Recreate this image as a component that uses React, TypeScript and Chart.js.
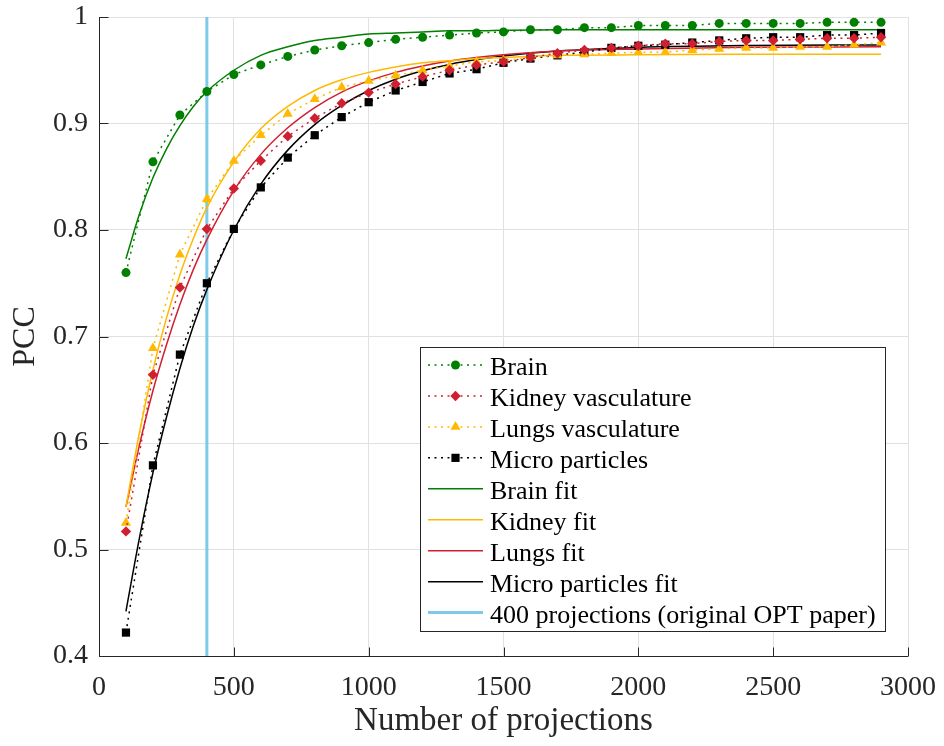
import React, { useEffect, useRef } from 'react';
import { Chart, registerables } from 'chart.js';
import { drawPoint } from 'chart.js/helpers';

Chart.register(...registerables);

// ---------- data ----------
const projections = [100, 200, 300, 400, 500, 600, 700, 800, 900, 1000, 1100, 1200, 1300, 1400, 1500, 1600, 1700, 1800, 1900, 2000, 2100, 2200, 2300, 2400, 2500, 2600, 2700, 2800, 2900];
const brain = [0.760, 0.864, 0.908, 0.930, 0.946, 0.955, 0.963, 0.969, 0.973, 0.976, 0.979, 0.981, 0.983, 0.985, 0.986, 0.988, 0.988, 0.990, 0.990, 0.992, 0.992, 0.992, 0.994, 0.994, 0.994, 0.994, 0.995, 0.995, 0.995];
const kidney = [0.517, 0.664, 0.746, 0.801, 0.839, 0.865, 0.888, 0.905, 0.919, 0.929, 0.937, 0.944, 0.950, 0.955, 0.958, 0.962, 0.966, 0.969, 0.971, 0.973, 0.975, 0.975, 0.977, 0.978, 0.978, 0.979, 0.980, 0.980, 0.981];
const lungs = [0.525, 0.689, 0.777, 0.829, 0.865, 0.889, 0.909, 0.923, 0.934, 0.940, 0.945, 0.950, 0.954, 0.958, 0.959, 0.962, 0.964, 0.965, 0.966, 0.967, 0.967, 0.969, 0.970, 0.971, 0.971, 0.972, 0.972, 0.974, 0.976];
const micro = [0.422, 0.579, 0.683, 0.750, 0.801, 0.840, 0.868, 0.889, 0.906, 0.920, 0.931, 0.939, 0.947, 0.951, 0.957, 0.961, 0.964, 0.967, 0.971, 0.973, 0.974, 0.976, 0.978, 0.980, 0.981, 0.981, 0.983, 0.983, 0.985];

const fitX = [100, 150, 200, 250, 300, 350, 400, 500, 600, 700, 800, 900, 1000, 1100, 1200, 1300, 1400, 1500, 1700, 2000, 2400, 2900];
const brainFit = [0.773, 0.815, 0.849, 0.876, 0.898, 0.916, 0.930, 0.950, 0.964, 0.972, 0.978, 0.981, 0.984, 0.985, 0.986, 0.987, 0.987, 0.9875, 0.988, 0.988, 0.988, 0.988];
const kidneyFit = [0.540, 0.610, 0.6685, 0.717, 0.758, 0.792, 0.821, 0.864, 0.895, 0.916, 0.931, 0.941, 0.948, 0.953, 0.957, 0.959, 0.961, 0.962, 0.964, 0.9645, 0.965, 0.965];
const lungsFit = [0.540, 0.598, 0.649, 0.692, 0.730, 0.763, 0.791, 0.837, 0.871, 0.896, 0.915, 0.9295, 0.940, 0.948, 0.954, 0.9587, 0.962, 0.9645, 0.968, 0.970, 0.9715, 0.972];
const microFit = [0.442, 0.511, 0.572, 0.624, 0.670, 0.710, 0.744, 0.800, 0.843, 0.875, 0.899, 0.917, 0.931, 0.9416, 0.9495, 0.9555, 0.960, 0.9634, 0.968, 0.9714, 0.9732, 0.9738];

const refLineX = [400, 400];
const refLineY = [0.4, 1.0];

const xTicks = [0, 500, 1000, 1500, 2000, 2500, 3000];
const yTicks = [0.4, 0.5, 0.6, 0.7, 0.8, 0.9, 1.0];
const xTitle = 'Number of projections';
const yTitle = 'PCC';

// ---------- styles ----------
const FONT = '"Liberation Serif", "Times New Roman", Times, serif';
const GREEN = '#007f00';
const RED = '#d01f30';
const YELLOW = '#ffb900';
const BLACK = '#000000';
const BLUE = '#7fc9eb';
const AXIS = '#262626';
const GRID = '#e1e1e1';
const DOT = [2, 4.5];

const toPts = (xs: number[], ys: number[]) => xs.map((x, i) => ({ x, y: ys[i] }));

const dataSeries = (label: string, ys: number[], color: string, style: string, r: number) => ({
  label,
  data: toPts(projections, ys),
  borderColor: color,
  backgroundColor: color,
  borderWidth: 1.5,
  borderDash: DOT,
  pointStyle: style,
  pointRadius: r,
  pointBackgroundColor: color,
  pointBorderColor: color,
  pointBorderWidth: 0,
  showLine: true,
  order: 1,
  _legend: { dotted: true, marker: style, r },
});

const fitSeries = (label: string, ys: number[], color: string) => ({
  label,
  data: toPts(fitX, ys),
  borderColor: color,
  backgroundColor: color,
  borderWidth: 1.5,
  pointRadius: 0,
  cubicInterpolationMode: 'monotone',
  order: 5,
  _legend: { dotted: false },
});

const axesPlugin = {
  id: 'matlabAxes',
  afterDatasetsDraw(chart: any) {
    const { ctx, chartArea: a, scales } = chart;
    const xs = scales.x;
    const ys = scales.y;
    ctx.save();
    ctx.strokeStyle = AXIS;
    ctx.lineWidth = 1;
    ctx.beginPath();
    const L = Math.round(a.left) + 0.5;
    const B = Math.round(a.bottom) + 0.5;
    ctx.moveTo(L, a.top);
    ctx.lineTo(L, B);
    ctx.lineTo(a.right, B);
    xTicks.forEach((v) => {
      const px = Math.round(xs.getPixelForValue(v)) + 0.5;
      ctx.moveTo(px, B);
      ctx.lineTo(px, B - 9);
    });
    yTicks.forEach((v) => {
      const py = Math.round(ys.getPixelForValue(v)) + 0.5;
      ctx.moveTo(L, py);
      ctx.lineTo(L + 9, py);
    });
    ctx.stroke();

    // axis titles
    ctx.fillStyle = AXIS;
    ctx.textAlign = 'center';
    ctx.textBaseline = 'middle';
    ctx.font = `33px ${FONT}`;
    ctx.fillText(xTitle, (a.left + a.right) / 2, 721);
    ctx.font = `32px ${FONT}`;
    ctx.save();
    ctx.translate(26, (a.top + a.bottom) / 2);
    ctx.rotate(-Math.PI / 2);
    ctx.fillText(yTitle, 0, 0);
    ctx.restore();
    ctx.restore();
  },
};

const legendPlugin = {
  id: 'boxLegend',
  afterDraw(chart: any) {
    const { ctx } = chart;
    const box = { l: 420.5, t: 347.5, r: 885.5, b: 631.5 };
    ctx.save();
    ctx.fillStyle = '#ffffff';
    ctx.fillRect(box.l, box.t, box.r - box.l, box.b - box.t);
    ctx.strokeStyle = AXIS;
    ctx.lineWidth = 1;
    ctx.strokeRect(box.l, box.t, box.r - box.l, box.b - box.t);
    const rowH = 30.95;
    const x0 = 428;
    const x1 = 483;
    chart.data.datasets.forEach((ds: any, i: number) => {
      const y = 365 + i * rowH;
      ctx.save();
      ctx.strokeStyle = ds.borderColor;
      ctx.lineWidth = ds.borderWidth;
      ctx.setLineDash(ds._legend.dotted ? DOT : []);
      ctx.beginPath();
      ctx.moveTo(x0, y);
      ctx.lineTo(x1, y);
      ctx.stroke();
      ctx.setLineDash([]);
      if (ds._legend.marker) {
        ctx.fillStyle = ds.borderColor;
        drawPoint(ctx, { pointStyle: ds._legend.marker, radius: ds._legend.r, rotation: 0, borderWidth: 0 } as any, (x0 + x1) / 2, y);
      }
      ctx.restore();
      ctx.fillStyle = '#000000';
      ctx.font = `26px ${FONT}`;
      ctx.textAlign = 'left';
      ctx.textBaseline = 'alphabetic';
      ctx.fillText(ds.label, 490, y + 10);
    });
    ctx.restore();
  },
};

export default function App() {
  const ref = useRef<HTMLCanvasElement | null>(null);
  useEffect(() => {
    document.body.style.margin = '0';
    const canvas = ref.current;
    if (!canvas) return;
    const datasets: any[] = [
      dataSeries('Brain', brain, GREEN, 'circle', 4.5),
      dataSeries('Kidney vasculature', kidney, RED, 'rectRot', 5.2),
      dataSeries('Lungs vasculature', lungs, YELLOW, 'triangle', 5.8),
      dataSeries('Micro particles', micro, BLACK, 'rect', 5.8),
      fitSeries('Brain fit', brainFit, GREEN),
      fitSeries('Kidney fit', kidneyFit, YELLOW),
      fitSeries('Lungs fit', lungsFit, RED),
      fitSeries('Micro particles fit', microFit, BLACK),
      {
        label: '400 projections (original OPT paper)',
        data: toPts(refLineX, refLineY),
        borderColor: BLUE,
        backgroundColor: BLUE,
        borderWidth: 3,
        pointRadius: 0,
        order: 10,
        _legend: { dotted: false },
      },
    ];
    const chart = new Chart(canvas, {
      type: 'line',
      data: { datasets },
      options: {
        responsive: false,
        maintainAspectRatio: false,
        animation: false,
        devicePixelRatio: 1,
        layout: { padding: { top: 17, right: 36, left: 0, bottom: 0 } },
        plugins: { legend: { display: false }, tooltip: { enabled: false }, title: { display: false } },
        scales: {
          x: {
            type: 'linear',
            min: 0,
            max: 3000,
            afterFit: (s: any) => { s.height = 90; s.paddingLeft = 0; s.paddingRight = 0; },
            afterBuildTicks: (s: any) => { s.ticks = xTicks.map((v) => ({ value: v })); },
            ticks: { padding: 15, color: AXIS, font: { family: FONT, size: 28 }, maxRotation: 0, autoSkip: false, callback: (v: any) => String(v) },
            grid: { color: GRID, drawTicks: false, lineWidth: 1 },
            border: { display: false },
          },
          y: {
            type: 'linear',
            min: 0.4,
            max: 1,
            afterFit: (s: any) => { s.width = 99; s.paddingTop = 0; s.paddingBottom = 0; },
            afterBuildTicks: (s: any) => { s.ticks = yTicks.map((v) => ({ value: v })); },
            ticks: { padding: 11, color: AXIS, font: { family: FONT, size: 28 }, autoSkip: false, callback: (v: any) => String(Math.round(Number(v) * 10) / 10) },
            grid: { color: GRID, drawTicks: false, lineWidth: 1 },
            border: { display: false },
          },
        },
      },
      plugins: [axesPlugin, legendPlugin],
    } as any);
    return () => chart.destroy();
  }, []);
  return (
    <div style={{ width: 944, height: 746, background: '#fff' }}>
      <canvas ref={ref} width={944} height={746} style={{ display: 'block', width: 944, height: 746 }} />
    </div>
  );
}
